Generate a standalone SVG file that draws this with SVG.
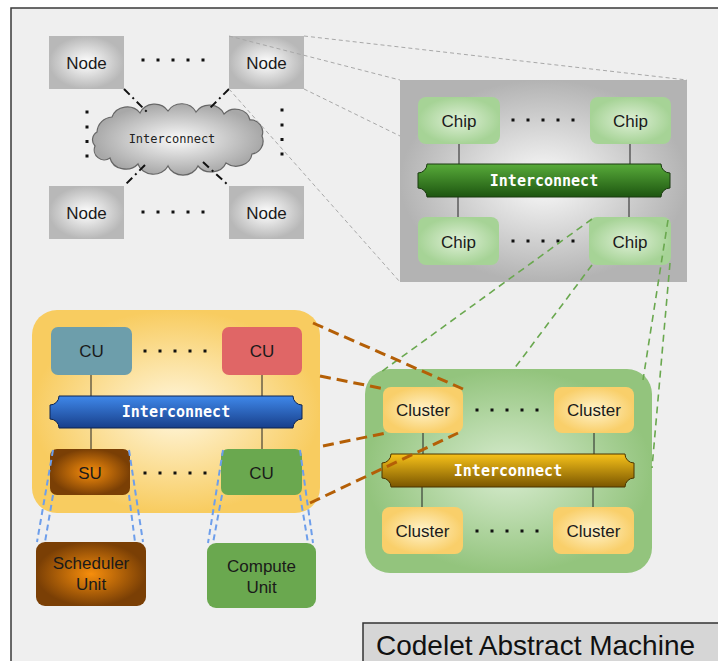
<svg xmlns="http://www.w3.org/2000/svg" width="718" height="661" viewBox="0 0 718 661">
<style>
.lbl{font-family:"Liberation Sans",Arial,sans-serif;font-size:17px;fill:#1a1a1a;text-anchor:middle}
.bar{font-family:"DejaVu Sans Mono",monospace;font-size:15px;font-weight:bold;fill:#ffffff;text-anchor:middle}
.link{stroke:#222;stroke-width:1}
.dot{fill:#111}
.dd{stroke:#111;stroke-width:2;stroke-dasharray:8 4 2 4;fill:none}
.gray{stroke:#a8a8a8;stroke-width:1;stroke-dasharray:4 3;fill:none}
.grn{stroke:#6aa84f;stroke-width:1.6;stroke-dasharray:7 5;fill:none}
.brn{stroke:#b45f06;stroke-width:3;stroke-dasharray:11 6;fill:none}
.blu{stroke:#6d9eeb;stroke-width:2;stroke-dasharray:6 4;fill:none}
</style>
<defs>
<radialGradient id="gNode"><stop offset="0" stop-color="#ffffff"/><stop offset="1" stop-color="#b8b8b8"/></radialGradient>
<radialGradient id="gChipBox"><stop offset="0" stop-color="#fbfbfb"/><stop offset="1" stop-color="#b3b3b3"/></radialGradient>
<radialGradient id="gChip"><stop offset="0" stop-color="#dff0d7"/><stop offset="1" stop-color="#a6d396"/></radialGradient>
<radialGradient id="gClusterBox"><stop offset="0" stop-color="#d8ecd0"/><stop offset="1" stop-color="#93c47d"/></radialGradient>
<radialGradient id="gCluster"><stop offset="0" stop-color="#fff3cb"/><stop offset="1" stop-color="#f9cf6a"/></radialGradient>
<radialGradient id="gYellow"><stop offset="0" stop-color="#fff7df"/><stop offset="1" stop-color="#f8cc60"/></radialGradient>
<radialGradient id="gSU"><stop offset="0" stop-color="#f78e0c"/><stop offset="1" stop-color="#7a3f05"/></radialGradient>
<radialGradient id="gCloud"><stop offset="0" stop-color="#fafafa"/><stop offset="1" stop-color="#a8a8a8"/></radialGradient>
<linearGradient id="gGreenBar" x1="0" y1="0" x2="0" y2="1"><stop offset="0" stop-color="#58ab3a"/><stop offset="1" stop-color="#1d5510"/></linearGradient>
<linearGradient id="gBlueBar" x1="0" y1="0" x2="0" y2="1"><stop offset="0" stop-color="#3f88ea"/><stop offset="1" stop-color="#183f8a"/></linearGradient>
<linearGradient id="gGoldBar" x1="0" y1="0" x2="0" y2="1"><stop offset="0" stop-color="#f7c21a"/><stop offset="1" stop-color="#7a5600"/></linearGradient>
</defs>

<rect x="0" y="0" width="718" height="661" fill="#ffffff"/>
<rect x="11" y="8" width="720" height="670" fill="#efefef" stroke="#3a3a3a" stroke-width="1.5"/>

<!-- Top-left: nodes and cloud -->
<g id="node-tl"><rect x="49" y="36" width="75" height="53" fill="url(#gNode)"/><text class="lbl" x="86.5" y="69">Node</text></g>
<g id="node-tr"><rect x="229" y="36" width="75" height="53" fill="url(#gNode)"/><text class="lbl" x="266.5" y="69">Node</text></g>
<g id="node-bl"><rect x="49" y="186" width="75" height="53" fill="url(#gNode)"/><text class="lbl" x="86.5" y="219">Node</text></g>
<g id="node-br"><rect x="229" y="186" width="75" height="53" fill="url(#gNode)"/><text class="lbl" x="266.5" y="219">Node</text></g>
<g id="cloud">
<path d="M97,132 A16,16 0 0 1 112,117 A16,15 0 0 1 140,113 A16,15 0 0 1 168,111 A16,15 0 0 1 196,112 A16,15 0 0 1 224,114 A15,14 0 0 1 250,120 A12,12 0 0 1 262,136 A13,13 0 0 1 252,154 A16,14 0 0 1 226,163 A16,14 0 0 1 198,166 A16,14 0 0 1 168,166 A16,14 0 0 1 138,164 A16,14 0 0 1 110,158 A10,10 0 0 1 95,146 A9,9 0 0 1 97,132 Z" fill="url(#gCloud)" stroke="#666" stroke-width="1.2"/>
<text x="172" y="143" font-family="DejaVu Sans Mono,monospace" font-size="12" fill="#222" text-anchor="middle">Interconnect</text>
</g>
<g id="dots-nodes" class="dot">
<rect x="141.5" y="58.5" width="3" height="3"/><rect x="156.5" y="58.5" width="3" height="3"/><rect x="171.5" y="58.5" width="3" height="3"/><rect x="186.5" y="58.5" width="3" height="3"/><rect x="201.5" y="58.5" width="3" height="3"/>
<rect x="141.5" y="210.5" width="3" height="3"/><rect x="156.5" y="210.5" width="3" height="3"/><rect x="171.5" y="210.5" width="3" height="3"/><rect x="186.5" y="210.5" width="3" height="3"/><rect x="201.5" y="210.5" width="3" height="3"/>
<rect x="85.5" y="110.5" width="3" height="3"/><rect x="85.5" y="125.5" width="3" height="3"/><rect x="85.5" y="140" width="3" height="3"/><rect x="85.5" y="154.5" width="3" height="3"/>
<rect x="280.5" y="108.5" width="3" height="3"/><rect x="280.5" y="123.5" width="3" height="3"/><rect x="280.5" y="138" width="3" height="3"/><rect x="280.5" y="152.5" width="3" height="3"/>
</g>

<!-- Chip box -->
<g id="chip-box"><rect x="400" y="80" width="287" height="202" fill="url(#gChipBox)"/></g>
<g id="chip-links">
<line class="link" x1="459" y1="144" x2="459" y2="164"/><line class="link" x1="630" y1="144" x2="630" y2="164"/>
<line class="link" x1="458" y1="197" x2="458" y2="217"/><line class="link" x1="629" y1="197" x2="629" y2="217"/>
</g>
<g id="chip-tl"><rect x="418" y="97" width="82" height="47" rx="8" fill="url(#gChip)"/><text class="lbl" x="459" y="127">Chip</text></g>
<g id="chip-tr"><rect x="590" y="97" width="81" height="47" rx="8" fill="url(#gChip)"/><text class="lbl" x="630.5" y="127">Chip</text></g>
<g id="chip-bl"><rect x="418" y="217" width="81" height="48" rx="8" fill="url(#gChip)"/><text class="lbl" x="458.5" y="248">Chip</text></g>
<g id="chip-br"><rect x="589" y="217" width="82" height="48" rx="8" fill="url(#gChip)"/><text class="lbl" x="630" y="248">Chip</text></g>
<g id="chip-interconnect">
<path d="M427,164 H661 A9,9 0 0 0 670,173 V188 A9,9 0 0 0 661,197 H427 A9,9 0 0 0 418,188 V173 A9,9 0 0 0 427,164 Z" fill="url(#gGreenBar)" stroke="#1a3a10" stroke-width="1"/>
<text class="bar" x="544" y="186">Interconnect</text>
</g>
<g id="dots-chips" class="dot">
<rect x="511.5" y="118.5" width="3" height="3"/><rect x="526.5" y="118.5" width="3" height="3"/><rect x="541.5" y="118.5" width="3" height="3"/><rect x="556.5" y="118.5" width="3" height="3"/><rect x="571.5" y="118.5" width="3" height="3"/>
<rect x="511.5" y="239.5" width="3" height="3"/><rect x="526.5" y="239.5" width="3" height="3"/><rect x="541.5" y="239.5" width="3" height="3"/><rect x="556.5" y="239.5" width="3" height="3"/><rect x="571.5" y="239.5" width="3" height="3"/>
</g>

<!-- Cluster box -->
<g id="cluster-box"><rect x="365" y="369" width="287" height="204" rx="25" fill="url(#gClusterBox)"/></g>
<g id="cluster-links">
<line class="link" x1="423" y1="433" x2="423" y2="454"/><line class="link" x1="594" y1="433" x2="594" y2="454"/>
<line class="link" x1="422" y1="487" x2="422" y2="507"/><line class="link" x1="593" y1="487" x2="593" y2="507"/>
</g>
<g id="cluster-tl"><rect x="383" y="387" width="80" height="46" rx="8" fill="url(#gCluster)"/><text class="lbl" x="423" y="416">Cluster</text></g>
<g id="cluster-tr"><rect x="554" y="387" width="80" height="46" rx="8" fill="url(#gCluster)"/><text class="lbl" x="594" y="416">Cluster</text></g>
<g id="cluster-bl"><rect x="382" y="507" width="81" height="47" rx="8" fill="url(#gCluster)"/><text class="lbl" x="422.5" y="537">Cluster</text></g>
<g id="cluster-br"><rect x="553" y="507" width="81" height="47" rx="8" fill="url(#gCluster)"/><text class="lbl" x="593.5" y="537">Cluster</text></g>
<g id="cluster-interconnect">
<path d="M391,454 H625 A9,9 0 0 0 634,463 V478 A9,9 0 0 0 625,487 H391 A9,9 0 0 0 382,478 V463 A9,9 0 0 0 391,454 Z" fill="url(#gGoldBar)" stroke="#4a3500" stroke-width="1"/>
<text class="bar" x="508" y="476">Interconnect</text>
</g>
<g id="dots-clusters" class="dot">
<rect x="475.5" y="408.5" width="3" height="3"/><rect x="490.5" y="408.5" width="3" height="3"/><rect x="505.5" y="408.5" width="3" height="3"/><rect x="520.5" y="408.5" width="3" height="3"/><rect x="535.5" y="408.5" width="3" height="3"/>
<rect x="475.5" y="529.5" width="3" height="3"/><rect x="490.5" y="529.5" width="3" height="3"/><rect x="505.5" y="529.5" width="3" height="3"/><rect x="520.5" y="529.5" width="3" height="3"/><rect x="535.5" y="529.5" width="3" height="3"/>
</g>

<!-- Cluster detail (yellow) -->
<g id="cu-box"><rect x="32" y="310" width="288" height="203" rx="25" fill="url(#gYellow)"/></g>
<g id="cu-links">
<line class="link" x1="91" y1="375" x2="91" y2="396"/><line class="link" x1="262" y1="375" x2="262" y2="396"/>
<line class="link" x1="91" y1="428" x2="91" y2="449"/><line class="link" x1="262" y1="428" x2="262" y2="449"/>
</g>
<g id="cu-tl"><rect x="51" y="327" width="81" height="48" rx="7" fill="#6d9eab"/><text class="lbl" x="91.5" y="357">CU</text></g>
<g id="cu-tr"><rect x="222" y="327" width="80" height="48" rx="7" fill="#e06666"/><text class="lbl" x="262" y="357">CU</text></g>
<g id="su"><rect x="50" y="449" width="80" height="46" rx="7" fill="url(#gSU)"/><text class="lbl" x="90" y="479">SU</text></g>
<g id="cu-br"><rect x="221" y="449" width="81" height="46" rx="7" fill="#6aa84f"/><text class="lbl" x="261.5" y="479">CU</text></g>
<g id="cu-interconnect">
<path d="M59,396 H293 A9,9 0 0 0 302,405 V419 A9,9 0 0 0 293,428 H59 A9,9 0 0 0 50,419 V405 A9,9 0 0 0 59,396 Z" fill="url(#gBlueBar)" stroke="#0f2550" stroke-width="1"/>
<text class="bar" x="176" y="417">Interconnect</text>
</g>
<g id="dots-cu" class="dot">
<rect x="143.5" y="349.5" width="3" height="3"/><rect x="158.5" y="349.5" width="3" height="3"/><rect x="173.5" y="349.5" width="3" height="3"/><rect x="188.5" y="349.5" width="3" height="3"/><rect x="203.5" y="349.5" width="3" height="3"/>
<rect x="143.5" y="471.5" width="3" height="3"/><rect x="158.5" y="471.5" width="3" height="3"/><rect x="173.5" y="471.5" width="3" height="3"/><rect x="188.5" y="471.5" width="3" height="3"/><rect x="203.5" y="471.5" width="3" height="3"/>
</g>

<g id="scheduler-unit"><rect x="36" y="542" width="110" height="64" rx="9" fill="url(#gSU)"/><text class="lbl" x="91" y="569">Scheduler</text><text class="lbl" x="91" y="590">Unit</text></g>
<g id="compute-unit"><rect x="207" y="543" width="109" height="65" rx="9" fill="#6aa84f"/><text class="lbl" x="261.5" y="572">Compute</text><text class="lbl" x="261.5" y="593">Unit</text></g>

<!-- Connectors -->
<g id="connectors">
<line class="dd" x1="124" y1="89" x2="148" y2="113"/>
<line class="dd" x1="229" y1="89" x2="209" y2="109"/>
<line class="dd" x1="145" y1="165" x2="125" y2="185"/>
<line class="dd" x1="203" y1="162" x2="228" y2="185"/>
<line class="gray" x1="304" y1="36" x2="687" y2="80"/>
<line class="gray" x1="229" y1="36" x2="400" y2="80"/>
<line class="gray" x1="304" y1="89" x2="400" y2="136"/>
<line class="gray" x1="229" y1="89" x2="400" y2="282"/>
<line class="grn" x1="592" y1="219" x2="381" y2="372"/>
<line class="grn" x1="592" y1="265" x2="514" y2="369"/>
<line class="grn" x1="668" y1="220" x2="643" y2="380"/>
<line class="grn" x1="670" y1="263" x2="652" y2="468"/>
<line class="brn" x1="313" y1="323" x2="463" y2="389"/>
<line class="brn" x1="320" y1="376" x2="385" y2="389"/>
<line class="brn" x1="323" y1="446" x2="386" y2="433"/>
<line class="brn" x1="310" y1="503" x2="458" y2="433"/>
<line class="blu" x1="53" y1="450" x2="37" y2="542"/>
<line class="blu" x1="53" y1="495" x2="45" y2="542"/>
<line class="blu" x1="129" y1="450" x2="143" y2="542"/>
<line class="blu" x1="129" y1="495" x2="135" y2="542"/>
<line class="blu" x1="223" y1="450" x2="208" y2="543"/>
<line class="blu" x1="222" y1="495" x2="213" y2="543"/>
<line class="blu" x1="300" y1="450" x2="313" y2="543"/>
<line class="blu" x1="300" y1="495" x2="308" y2="543"/>
</g>

<g id="title"><rect x="363" y="623" width="370" height="50" fill="#d6d6d6" stroke="#333" stroke-width="1.5"/><text x="376" y="655" font-family="Liberation Sans,Arial,sans-serif" font-size="28" fill="#111">Codelet Abstract Machine</text></g>
</svg>
